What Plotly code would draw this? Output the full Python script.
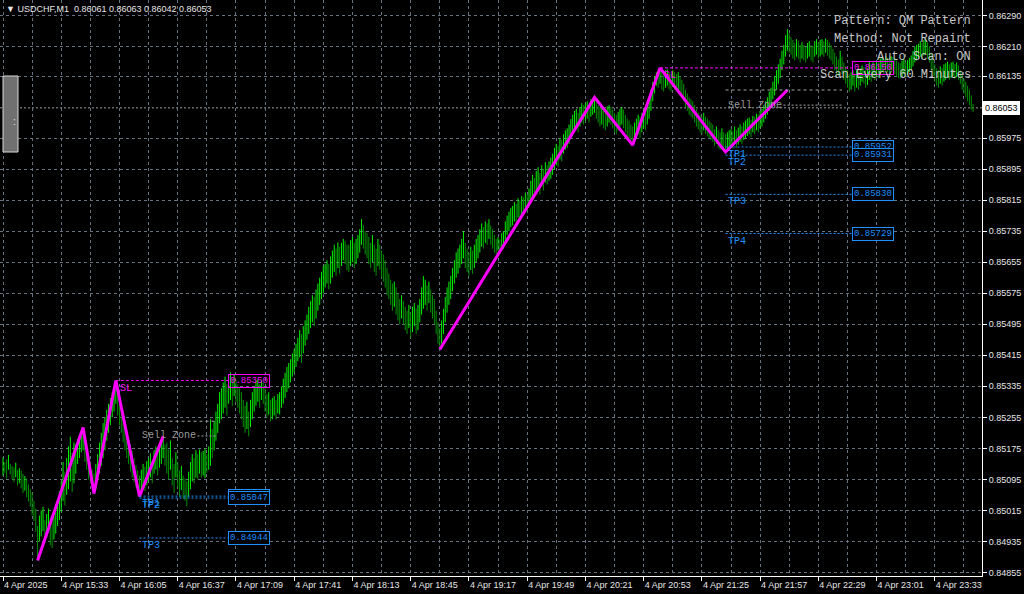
import plotly.graph_objects as go

# ---------------- data ----------------
symbol = "USDCHF,M1"
last_ohlc = [0.86061, 0.86063, 0.86042, 0.86053]
bid_price = 0.86053

time_labels = ["4 Apr 2025", "4 Apr 15:33", "4 Apr 16:05", "4 Apr 16:37", "4 Apr 17:09",
               "4 Apr 17:41", "4 Apr 18:13", "4 Apr 18:45", "4 Apr 19:17", "4 Apr 19:49",
               "4 Apr 20:21", "4 Apr 20:53", "4 Apr 21:25", "4 Apr 21:57", "4 Apr 22:29",
               "4 Apr 23:01", "4 Apr 23:33"]
bars_per_label = 32
bars_per_grid = 16

price_ticks = [0.84855, 0.84935, 0.85015, 0.85095, 0.85175, 0.85255, 0.85335, 0.85415,
               0.85495, 0.85575, 0.85655, 0.85735, 0.85815, 0.85895, 0.85975, 0.86135,
               0.86210, 0.86290]

# M1 bars: (price - 0.84) in points (1e-5)
bar_low_pts = [
    1105, 1112, 1098, 1120, 1108, 1095, 1088, 1101, 1079, 1085,
    1072, 1060, 1066, 1049, 1038, 1025, 1002, 988, 960, 886,
    935, 948, 962, 930, 944, 958, 925, 918, 940, 955,
    975, 990, 1010, 1040, 1028, 1055, 1070, 1090, 1062, 1085,
    1110, 1135, 1150, 1165, 1170, 1140, 1120, 1095, 1085, 1075,
    1059, 1070, 1090, 1110, 1130, 1150, 1170, 1195, 1215, 1235,
    1255, 1270, 1290, 1260, 1235, 1215, 1190, 1170, 1150, 1135,
    1115, 1100, 1088, 1075, 1062, 1051, 1060, 1072, 1065, 1080,
    1090, 1100, 1085, 1110, 1120, 1105, 1125, 1135, 1150, 1130,
    1110, 1095, 1120, 1080, 1060, 1100, 1075, 1050, 1068, 1045,
    1040, 1025, 1050, 1070, 1090, 1085, 1100, 1095, 1110, 1100,
    1105, 1098, 1112, 1120, 1130, 1150, 1170, 1195, 1215, 1240,
    1250, 1265, 1280, 1260, 1290, 1300, 1285, 1310, 1295, 1280,
    1265, 1250, 1230, 1215, 1225, 1206, 1230, 1250, 1270, 1285,
    1295, 1280, 1300, 1290, 1270, 1255, 1262, 1245, 1250, 1260,
    1250, 1265, 1262, 1280, 1290, 1305, 1320, 1330, 1345, 1360,
    1370, 1385, 1400, 1410, 1395, 1420, 1440, 1455, 1470, 1485,
    1500, 1490, 1510, 1530, 1545, 1560, 1575, 1590, 1600, 1585,
    1600, 1615, 1630, 1620, 1640, 1625, 1645, 1660, 1650, 1635,
    1630, 1645, 1655, 1640, 1650, 1665, 1680, 1700, 1690, 1675,
    1665, 1650, 1640, 1655, 1630, 1620, 1645, 1635, 1615, 1605,
    1590, 1570, 1560, 1545, 1530, 1540, 1520, 1505, 1495, 1510,
    1495, 1480, 1470, 1485, 1460, 1475, 1490, 1470, 1480, 1500,
    1520, 1535, 1545, 1530, 1550, 1525, 1510, 1495, 1470, 1445,
    1430, 1445, 1470, 1500, 1525, 1545, 1560, 1580, 1600, 1615,
    1625, 1640, 1650, 1665, 1640, 1630, 1620, 1635, 1625, 1640,
    1655, 1665, 1680, 1695, 1690, 1705, 1700, 1715, 1700, 1690,
    1680, 1675, 1685, 1680, 1695, 1690, 1710, 1725, 1735, 1745,
    1750, 1760, 1755, 1770, 1765, 1780, 1775, 1790, 1785, 1800,
    1810, 1825, 1820, 1835, 1845, 1830, 1850, 1840, 1860, 1855,
    1865, 1870, 1880, 1895, 1905, 1900, 1920, 1915, 1935, 1945,
    1950, 1960, 1975, 1985, 1995, 2000, 1990, 2005, 2015, 2010,
    2020, 2025, 2015, 2030, 2035, 2040, 2025, 2015, 2005, 2010,
    2000, 1995, 2005, 2015, 2010, 2000, 1990, 1985, 1995, 2005,
    2010, 2000, 1990, 1980, 1975, 1965, 1957, 1965, 1975, 1985,
    1975, 1990, 2000, 1995, 2010, 2025, 2045, 2070, 2090, 2110,
    2105, 2115, 2100, 2095, 2105, 2110, 2100, 2095, 2108, 2100,
    2095, 2100, 2090, 2085, 2070, 2055, 2045, 2035, 2030, 2025,
    2015, 2005, 1998, 1990, 1985, 1995, 1985, 1980, 1975, 1970,
    1965, 1955, 1960, 1950, 1945, 1955, 1948, 1939, 1945, 1950,
    1955, 1948, 1960, 1950, 1958, 1965, 1960, 1970, 1975, 1980,
    1985, 1978, 1990, 1985, 1995, 1990, 2000, 2005, 2015, 2025,
    2035, 2045, 2060, 2075, 2085, 2100, 2115, 2130, 2150, 2165,
    2185, 2200, 2195, 2190, 2180, 2175, 2185, 2180, 2170, 2180,
    2175, 2170, 2180, 2185, 2175, 2170, 2185, 2190, 2180, 2185,
    2190, 2185, 2195, 2188, 2180, 2175, 2165, 2150, 2140, 2135,
    2150, 2140, 2125, 2115, 2105, 2095, 2100, 2110, 2095, 2105,
    2100, 2110, 2120, 2115, 2105, 2112, 2125, 2120, 2130, 2125,
    2135, 2130, 2140, 2145, 2138, 2150, 2145, 2140, 2150, 2148,
    2140, 2135, 2130, 2128, 2135, 2140, 2132, 2138, 2145, 2150,
    2160, 2170, 2175, 2180, 2185, 2178, 2188, 2192, 2180, 2170,
    2150, 2135, 2120, 2110, 2105, 2115, 2110, 2120, 2125, 2130,
    2125, 2130, 2135, 2128, 2132, 2125, 2115, 2100, 2090, 2080,
    2070, 2060, 2048, 2042]

bar_high_pts = [
    1152, 1140, 1147, 1158, 1135, 1130, 1126, 1138, 1119, 1124,
    1118, 1110, 1104, 1098, 1082, 1070, 1061, 1040, 1020, 975,
    1002, 1015, 1024, 990, 1006, 1020, 996, 984, 1000, 1012,
    1040, 1065, 1090, 1140, 1115, 1150, 1180, 1205, 1165, 1190,
    1185, 1200, 1212, 1220, 1229, 1205, 1180, 1160, 1140, 1120,
    1110, 1135, 1160, 1190, 1215, 1240, 1255, 1275, 1290, 1305,
    1320, 1335, 1350, 1330, 1310, 1290, 1268, 1245, 1220, 1205,
    1185, 1168, 1150, 1132, 1118, 1105, 1120, 1135, 1128, 1142,
    1150, 1162, 1145, 1170, 1180, 1168, 1190, 1198, 1206, 1185,
    1190, 1172, 1195, 1150, 1135, 1165, 1140, 1118, 1130, 1105,
    1098, 1090, 1115, 1140, 1160, 1150, 1170, 1160, 1172, 1165,
    1168, 1175, 1160, 1180, 1250, 1225, 1245, 1270, 1290, 1320,
    1330, 1345, 1360, 1340, 1366, 1371, 1355, 1365, 1350, 1340,
    1330, 1320, 1300, 1285, 1295, 1270, 1300, 1320, 1335, 1350,
    1353, 1340, 1350, 1345, 1330, 1315, 1320, 1300, 1305, 1310,
    1300, 1315, 1320, 1335, 1355, 1370, 1385, 1395, 1405, 1420,
    1430, 1445, 1460, 1480, 1470, 1490, 1505, 1520, 1540, 1555,
    1570, 1565, 1585, 1600, 1615, 1630, 1645, 1650, 1660, 1650,
    1670, 1685, 1700, 1690, 1706, 1695, 1705, 1715, 1710, 1700,
    1700, 1712, 1720, 1705, 1715, 1725, 1740, 1766, 1750, 1735,
    1730, 1720, 1705, 1725, 1700, 1690, 1715, 1700, 1685, 1675,
    1660, 1640, 1625, 1610, 1600, 1605, 1590, 1575, 1560, 1570,
    1555, 1540, 1530, 1545, 1525, 1540, 1550, 1535, 1545, 1560,
    1590, 1619, 1610, 1595, 1605, 1585, 1570, 1560, 1530, 1500,
    1485, 1505, 1535, 1565, 1590, 1605, 1620, 1640, 1660, 1680,
    1690, 1700, 1715, 1735, 1705, 1690, 1680, 1695, 1685, 1700,
    1715, 1725, 1740, 1755, 1745, 1760, 1755, 1766, 1750, 1740,
    1725, 1715, 1720, 1714, 1730, 1735, 1760, 1775, 1785, 1795,
    1800, 1810, 1805, 1820, 1815, 1826, 1822, 1835, 1830, 1845,
    1865, 1880, 1872, 1890, 1900, 1885, 1905, 1895, 1913, 1905,
    1915, 1925, 1935, 1950, 1960, 1955, 1975, 1970, 1985, 1995,
    2000, 2010, 2024, 2035, 2045, 2050, 2040, 2055, 2065, 2060,
    2065, 2070, 2060, 2075, 2078, 2080, 2070, 2060, 2055, 2058,
    2050, 2045, 2057, 2060, 2055, 2048, 2040, 2035, 2042, 2050,
    2055, 2048, 2035, 2025, 2020, 2010, 2005, 2015, 2025, 2035,
    2030, 2040, 2050, 2045, 2060, 2080, 2100, 2120, 2135, 2145,
    2148, 2156, 2145, 2140, 2150, 2152, 2145, 2140, 2150, 2145,
    2140, 2145, 2135, 2125, 2115, 2100, 2090, 2080, 2075, 2070,
    2060, 2050, 2041, 2035, 2030, 2040, 2030, 2025, 2020, 2015,
    2010, 1998, 2005, 1995, 1990, 2000, 1990, 1985, 1990, 1995,
    1998, 1992, 2005, 1995, 2002, 2010, 2005, 2015, 2020, 2025,
    2028, 2022, 2032, 2030, 2038, 2035, 2045, 2050, 2060, 2070,
    2080, 2095, 2105, 2120, 2135, 2150, 2165, 2180, 2200, 2215,
    2240, 2256, 2245, 2235, 2228, 2220, 2230, 2225, 2215, 2222,
    2215, 2210, 2220, 2225, 2215, 2212, 2225, 2230, 2222, 2228,
    2230, 2225, 2232, 2228, 2222, 2215, 2205, 2195, 2185, 2178,
    2200, 2185, 2170, 2160, 2150, 2140, 2145, 2150, 2138, 2150,
    2145, 2155, 2162, 2158, 2150, 2155, 2171, 2165, 2170, 2168,
    2172, 2170, 2180, 2185, 2178, 2186, 2182, 2178, 2186, 2184,
    2180, 2175, 2170, 2168, 2175, 2179, 2172, 2176, 2182, 2188,
    2200, 2210, 2215, 2218, 2225, 2220, 2228, 2232, 2222, 2212,
    2195, 2180, 2165, 2155, 2150, 2160, 2155, 2165, 2168, 2172,
    2165, 2170, 2172, 2166, 2170, 2162, 2150, 2138, 2128, 2120,
    2110, 2100, 2085, 2063]

# QM pattern zigzags (bar index, price)
qm1_bars = [19, 44, 50, 62, 75, 88]
qm1_prices = [0.84886, 0.85229, 0.85059, 0.85350, 0.85051, 0.85206]
qm2_bars = [240, 325, 346, 361, 397, 431]
qm2_prices = [0.85430, 0.86080, 0.85957, 0.86156, 0.85939, 0.86099]

# pattern levels
qm1_sl = 0.85350
qm1_zone = [0.85245, 0.85207]
qm1_tp_names = ["TP1", "TP2", "TP3"]
qm1_tp = [0.85052, 0.85047, 0.84944]
qm1_sl_bar, qm1_start_bar, qm1_zone_end_bar, qm1_box_bar = 62, 75, 117.5, 123.6

qm2_sl = 0.86156
qm2_zone = [0.86099, 0.86060]
qm2_tp_names = ["TP1", "TP2", "TP3", "TP4"]
qm2_tp = [0.85952, 0.85931, 0.85830, 0.85729]
qm2_sl_bar, qm2_start_bar, qm2_zone_end_bar, qm2_box_bar = 361, 397, 461, 466.5

info_lines = ["Pattern: QM Pattern", "Method: Not Repaint", "Auto Scan: ON",
              "Scan Every 60 Minutes"]

# ---------------- layout constants ----------------
W, H = 1024, 594
ML, MR, MT, MB = 0, 42, 0, 18
PW, PH = W - ML - MR, H - MT - MB
PX_PER_BAR = 1.82
FIRST_BAR_PX = 3
x_range = [-FIRST_BAR_PX / PX_PER_BAR, (PW - FIRST_BAR_PX) / PX_PER_BAR]
y_range = [0.84846, 0.86331]

GRID = "#66727f"
GREEN_UP = "#00f000"
GREEN_DN = "#009000"
MAGENTA = "#ff00ff"
BLUE = "#1e90ff"
ZONE_GRAY = "#a6a6a6"
MONO = "Liberation Mono, Courier New, monospace"
SANS = "Liberation Sans, Arial, sans-serif"


def px_x(px):
    return px / PW


def px_y(py):
    return 1 - py / PH


def to_price(v):
    return round(0.84 + v / 1e5, 5)


lows = [to_price(v) for v in bar_low_pts]
highs = [to_price(v) for v in bar_high_pts]
mids = [(a + b) / 2 for a, b in zip(lows, highs)]

fig = go.Figure()

# bars as vertical segments, split by colour
up_x, up_y, dn_x, dn_y = [], [], [], []
for i, (lo, hi) in enumerate(zip(lows, highs)):
    rising = i == 0 or mids[i] >= mids[i - 1]
    xs, ys = (up_x, up_y) if rising else (dn_x, dn_y)
    xs += [i, i, None]
    ys += [lo, hi, None]
fig.add_trace(go.Scatter(x=dn_x, y=dn_y, mode="lines", line=dict(color=GREEN_DN, width=1),
                         hoverinfo="skip", showlegend=False))
fig.add_trace(go.Scatter(x=up_x, y=up_y, mode="lines", line=dict(color=GREEN_UP, width=1),
                         hoverinfo="skip", showlegend=False))

# zigzags
for bars, prices in [(qm1_bars, qm1_prices), (qm2_bars, qm2_prices)]:
    fig.add_trace(go.Scatter(x=bars, y=prices, mode="lines",
                             line=dict(color=MAGENTA, width=3), hoverinfo="skip",
                             showlegend=False))

shapes = []
annotations = []

# bid line
shapes.append(dict(type="line", xref="paper", x0=0, x1=1, yref="y", y0=bid_price, y1=bid_price,
                   line=dict(color="#9c9c9c", width=1, dash="2px,2px"), layer="below"))


def add_pattern(sl, sl_bar, start_bar, zone, zone_end, box_bar, tp_names, tps):
    # SL
    shapes.append(dict(type="line", xref="x", yref="y", x0=sl_bar, x1=box_bar, y0=sl, y1=sl,
                       line=dict(color=MAGENTA, width=1, dash="3px,2px")))
    annotations.append(dict(x=box_bar, y=sl, xref="x", yref="y", xanchor="left", yanchor="middle",
                            text=f"{sl:.5f}", showarrow=False, bordercolor=MAGENTA, borderwidth=1,
                            borderpad=1, font=dict(family=MONO, size=9, color=MAGENTA)))
    annotations.append(dict(x=sl_bar + 1, y=sl, xref="x", yref="y", xanchor="left", yanchor="top",
                            text="SL", showarrow=False, font=dict(family=MONO, size=10, color=MAGENTA)))
    # sell zone
    shapes.append(dict(type="line", xref="x", yref="y", x0=start_bar, x1=zone_end,
                       y0=zone[0], y1=zone[0], line=dict(color=ZONE_GRAY, width=1, dash="3px,3px")))
    text_bars = 58 / PX_PER_BAR
    shapes.append(dict(type="line", xref="x", yref="y", x0=start_bar + text_bars, x1=zone_end,
                       y0=zone[1], y1=zone[1], line=dict(color=ZONE_GRAY, width=1, dash="2px,2px")))
    annotations.append(dict(x=start_bar, y=zone[1], xref="x", yref="y", xanchor="left",
                            yanchor="middle", text="Sell Zone", showarrow=False,
                            font=dict(family=MONO, size=10, color="#9a9a9a")))
    # take profits
    for name, tp in zip(tp_names, tps):
        shapes.append(dict(type="line", xref="x", yref="y", x0=start_bar, x1=box_bar, y0=tp, y1=tp,
                           line=dict(color=BLUE, width=1, dash="2px,2px")))
        annotations.append(dict(x=box_bar, y=tp, xref="x", yref="y", xanchor="left",
                                yanchor="middle", text=f"{tp:.5f}", showarrow=False,
                                bordercolor=BLUE, borderwidth=1, borderpad=1, bgcolor="#000000",
                                font=dict(family=MONO, size=9, color=BLUE)))
        annotations.append(dict(x=start_bar, y=tp, xref="x", yref="y", xanchor="left",
                                yanchor="top", text=name, showarrow=False,
                                font=dict(family=MONO, size=10, color=BLUE)))


add_pattern(qm1_sl, qm1_sl_bar, qm1_start_bar, qm1_zone, qm1_zone_end_bar, qm1_box_bar,
            qm1_tp_names, qm1_tp)
add_pattern(qm2_sl, qm2_sl_bar, qm2_start_bar, qm2_zone, qm2_zone_end_bar, qm2_box_bar,
            qm2_tp_names, qm2_tp)

# info panel (top right)
for k, line in enumerate(info_lines):
    annotations.append(dict(x=px_x(973), y=px_y(21 + 18 * k), xref="paper", yref="paper",
                            xanchor="right", yanchor="middle", text=line, showarrow=False,
                            font=dict(family=MONO, size=12, color="#c8c8c8")))

# title
title_text = "▼ " + symbol + "  " + " ".join(f"{v:.5f}" for v in last_ohlc)
annotations.append(dict(x=px_x(4), y=px_y(9), xref="paper", yref="paper", xanchor="left",
                        yanchor="middle", text=title_text, showarrow=False,
                        font=dict(family=SANS, size=9, color="#e6e6e6")))

# bid price box on axis
annotations.append(dict(x=1, y=bid_price, xref="paper", yref="y", xanchor="left", yanchor="middle",
                        xshift=1, text=f"{bid_price:.5f}", showarrow=False, bgcolor="#ffffff",
                        bordercolor="#ffffff", borderpad=1,
                        font=dict(family=SANS, size=9, color="#000000")))

# left side handle
shapes.append(dict(type="rect", xref="paper", yref="paper", x0=px_x(3), x1=px_x(18),
                   y0=px_y(152), y1=px_y(76), fillcolor="#707070",
                   line=dict(color="#d8d8d8", width=1)))
annotations.append(dict(x=px_x(10.5), y=px_y(114), xref="paper", yref="paper", text=":",
                        showarrow=False, font=dict(family=SANS, size=10, color="#e0e0e0")))

fig.update_layout(
    width=W, height=H,
    margin=dict(l=ML, r=MR, t=MT, b=MB, pad=0),
    paper_bgcolor="#000000", plot_bgcolor="#000000",
    showlegend=False,
    shapes=shapes, annotations=annotations,
    xaxis=dict(range=x_range, tickmode="array",
               tickvals=[k * bars_per_label for k in range(len(time_labels))],
               ticktext=time_labels, ticks="outside", ticklen=4, tickcolor="#ffffff",
               ticklabelposition="outside right",
               tickfont=dict(family=SANS, size=9, color="#e6e6e6"),
               showgrid=True, gridcolor=GRID, griddash="3px,3px", gridwidth=1,
               minor=dict(tickmode="linear", tick0=0, dtick=bars_per_grid, showgrid=True,
                          gridcolor=GRID, griddash="3px,3px", ticks=""),
               showline=True, linecolor="#ffffff", linewidth=1, zeroline=False,
               fixedrange=True),
    yaxis=dict(range=y_range, side="right", tickmode="array", tickvals=price_ticks,
               ticktext=[f"{p:.5f}" for p in price_ticks], ticks="outside", ticklen=4,
               tickcolor="#ffffff", tickfont=dict(family=SANS, size=9, color="#e6e6e6"),
               showgrid=True, gridcolor=GRID, griddash="3px,3px", gridwidth=1,
               showline=True, linecolor="#ffffff", linewidth=1, zeroline=False,
               fixedrange=True),
)

fig.write_html("out.html", config={"displayModeBar": False},
               post_script="document.body.style.margin='0';document.body.style.overflow='hidden';")
